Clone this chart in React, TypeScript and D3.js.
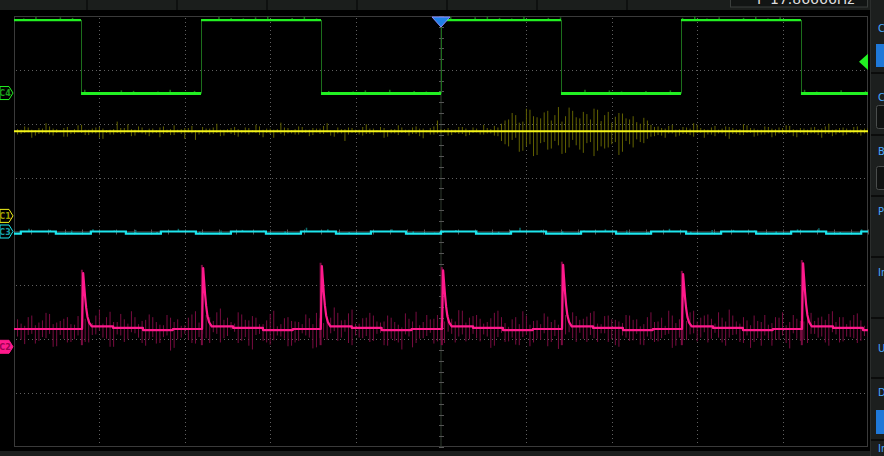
import React from 'react';
import * as d3 from 'd3';

// ---------- data (time in ms, 20 ms/div; amplitude in divisions) ----------
const timeGridMs = [-80, -60, -40, -20, 20, 40, 60, 80];
const ampGridDiv = [-3, -2, -1, 1, 2, 3];

const channelLabels = ['C4', 'C1', 'C3', 'C2'];
const channelMarkerDiv = [2.57, 0.29, 0, -2.14];

const freqLabel = 'F';
const freqValue = '17.86666Hz';
const panelLabels = ['Coupling', 'Coupling', 'BW Limit', 'Probe', 'Impedance', 'Unit', 'Deskew', 'Invert'];

// C4 (green) square wave
const greenEdgeMs = [-84.3, -56.2, -28.1, 0, 28.1, 56.2, 84.3];
const greenSegDiv = [3.925, 2.56, 3.925, 2.56, 3.925, 2.56, 3.925, 2.56];
const greenNoise = [3,6,2,5,4,7,2,3,6,5,2,4,7,3,5,2,6,4,3,5,7,2,4,6,3,5,2,4,6,3,7,2,5,4,3,6,2,5,7,4,3,6,2,4,5,3,7,2,6,4,3,5,2,6,4,7,3,5,2,4,6,3,5,2,7,4,3,6,2,5];

// C1 (yellow)
const yellowDiv = 1.86;
const yellowUp = [4,9,3,6,15,5,2,8,4,12,3,7,5,3,18,6,4,9,2,5,7,3,11,4,6,2,8,5,14,3,6,4,7,2,9,5,3,16,6,4,8,3,5,10,2,7,4,6,3,13,5,8,2,4,7,3,9,5,6,20,4,3,8,5,7,2,6,10,
  14,22,30,18,40,26,35,20,45,28,38,24,32,42,19,36,27,33,22,17,25,12,
  9,5,12,4,7,15,6,3,10,5,8,4,13,6,3,9,5,7,11,4,6,3,8,5,14,4,7,3,9,5];
const yellowDown = [6,3,12,5,4,8,2,10,5,3,7,4,14,6,3,5,9,2,6,4,11,3,7,5,2,16,4,6,3,8,5,10,4,2,7,3,12,5,4,6,3,9,2,5,8,4,18,3,6,5,7,2,10,4,3,8,5,13,6,4,2,7,5,9,3,6,4,8,
  18,28,12,36,24,44,20,32,26,40,16,34,22,46,28,30,20,38,24,15,22,10,
  7,12,4,8,5,10,3,6,9,4,14,5,7,3,8,6,11,4,5,9,3,7,4,12,5,6,8,3,5,4];
const yellowUpB = [3,7,2,5,9,4,6,2,11,3,5,8,2,4,6,13,3,7,5,2,9,4,3,6,10,2,5,7,3,4,8,2,6,12,3,5,4,7,2,9,3,6,5,15,2,4,7,3,8,5,2,6,4,11,3,7,5,2,9,4,6,3,8,2,5,12,4,7,
  20,34,16,42,28,24,38,30,18,44,26,36,22,40,30,16,34,24,28,14,20,8,
  6,10,3,8,5,12,4,7,3,9,6,4,11,5,3,8,4,6,10,3,5,7,4,9,3,6,5,8,4,6];
const yellowDownB = [5,2,8,4,6,3,10,5,2,7,4,12,3,6,5,2,8,4,9,3,5,7,2,14,4,6,3,5,9,2,7,4,6,3,11,5,2,8,4,6,3,7,5,2,10,4,6,3,8,5,2,12,4,7,3,5,9,2,6,4,8,3,5,7,2,6,4,9,
  24,16,38,28,46,22,34,18,42,30,26,40,20,36,32,24,44,18,30,20,14,9,
  8,4,10,5,7,3,12,6,4,9,5,7,3,10,6,4,8,5,3,11,6,4,7,5,9,3,6,4,8,5];

// C3 (cyan)
const cyanStepMs = [-100,-98.4,-90.2,-82.0,-73.8,-65.6,-57.4,-49.2,-41.0,-32.8,-24.6,-16.4,-8.2,0,8.2,16.4,24.6,32.8,41.0,49.2,57.4,65.6,73.8,82.0,90.2,98.4];
const cyanStepDiv = [-0.04,0,-0.04,0,-0.04,0,-0.04,0,-0.04,0,-0.04,0,-0.04,0,-0.04,0,-0.04,0,-0.04,0,-0.04,0,-0.04,0,-0.04,0];
const cyanNoise = [3,1,4,2,0,5,1,3,2,4,1,0,3,5,2,1,4,2,3,0,1,4,2,5,1,3,0,2,4,1,3,2,5,1,0,3,2,4,1,2];

// C2 (pink)
const pinkSpikeMs = [-83.8, -55.7, -27.9, 0.5, 28.6, 56.7, 84.8];
const pinkSpikePeakDiv = [-0.77, -0.68, -0.64, -0.72, -0.62, -0.79, -0.59];
const spikeOffsetMs = [-0.25, 0, 0.2, 0.45, 0.7, 1.0, 1.4, 2.0];
const spikeFrac = [0, 1, 0.8, 0.55, 0.35, 0.18, 0.07, 0];
const pinkBaseOffsetMs = [2.0, 7, 14, 21];
const pinkBaseDiv = [-1.76, -1.79, -1.83, -1.81];
const pinkUp = [18,6,25,12,30,9,15,22,8,35,14,20,5,27,11,16,31,7,19,24,10,28,13,6,21,33,9,17,26,12,8,29,15,22,7,18,36,11,24,14,9,20,30,6,16,25,12,34,8,19,23,10,27,15,5,21,32,13,18,26,9,14,30,7,22,17,11,28,20,6,24,35,10,16,29,13,8,21,26,12,18,31,7,23,15,9,27,20,11,33,14,6,25,18,10,29,16,22,8,19,34,12,24,9,17,28,13,21,7,26,15,30,10,18,23,11,20,14,27,8];
const pinkDown = [14,28,9,22,17,33,11,25,19,7,30,15,21,38,12,26,8,18,29,13,24,10,35,16,20,27,9,31,14,22,6,28,17,40,11,23,19,12,30,25,8,16,34,21,13,27,10,32,18,15,24,9,29,20,36,12,26,17,7,23,31,14,19,28,11,25,16,33,9,21,27,13,30,18,8,24,37,15,22,12,29,19,10,26,32,14,20,7,28,17,23,11,35,16,25,13,21,30,9,27,18,12,24,33,15,10,29,20,26,8,22,31,14,19,36,12,25,17,28,11];
const pinkUpB = [10,22,7,16,28,12,19,9,24,14,6,31,17,11,26,8,20,13,29,15,9,23,18,7,27,12,21,10,33,16,8,25,14,19,11,30,7,22,17,13,27,9,20,15,35,11,24,8,18,28,12,16,23,10,31,14,7,26,19,12,21,9,29,16,24,8,18,32,13,20,11,27,15,9,23,17,30,10,19,14,25,8,22,16,12,28,19,7,24,13,21,34,11,17,26,9,20,14,29,12,23,8,18,27,15,10,22,31,13,19,9,25,16,12,28,20,7,24,14,18];
const pinkDownB = [20,11,27,15,9,32,18,24,12,29,16,8,23,35,14,21,10,28,17,25,13,38,19,9,26,15,22,11,30,18,7,24,33,13,20,27,10,16,29,22,12,36,17,25,9,21,31,14,19,26,11,28,16,23,8,34,18,13,27,21,10,30,15,24,19,12,37,17,22,14,28,9,25,20,32,13,18,11,29,23,16,26,10,21,35,14,19,27,12,24,17,9,31,20,15,28,11,23,18,33,13,26,10,22,29,16,20,12,36,18,25,14,21,30,11,27,16,19,24,13];

// ---------- layout ----------
const W = 884, H = 456;
const PL = 14, PR = 868, PT = 16, PB = 447;
const x = d3.scaleLinear().domain([-100, 100]).range([PL, PR]);
const y = d3.scaleLinear().domain([-4, 4]).range([PB, PT]);

const C = {
  green: '#22f022', greenDim: '#1c6e1c', yellow: '#f4f41a', yellowDim: '#626200',
  cyan: '#1ee6ee', cyanDim: '#0c6a6a', pink: '#ff1a8c', pinkDim: '#780c40',
};

function pinkBaseAt(t: number) {
  let prev: number | null = null;
  for (const s of pinkSpikeMs) if (s <= t) prev = s;
  if (prev === null) return pinkBaseDiv[pinkBaseDiv.length - 1];
  const off = t - prev;
  let v = pinkBaseDiv[0];
  pinkBaseOffsetMs.forEach((o, j) => { if (off >= o) v = pinkBaseDiv[j]; });
  return v;
}
function greenAt(t: number) {
  let k = 0;
  greenEdgeMs.forEach((e) => { if (t >= e) k++; });
  return greenSegDiv[k];
}
function cyanAt(t: number) {
  let v = cyanStepDiv[0];
  cyanStepMs.forEach((s, j) => { if (t >= s) v = cyanStepDiv[j]; });
  return v;
}
const noiseT = (i: number, n: number, shift = 0) => -100 + ((i + 0.5 + shift) * 200) / n;

const line = d3.line<[number, number]>().x((d) => x(d[0])).y((d) => y(d[1]));
const stepLine = d3.line<[number, number]>().x((d) => x(d[0])).y((d) => y(d[1])).curve(d3.curveStepAfter);

function pinkPoints(): [number, number][] {
  const pts: [number, number][] = [[-100, pinkBaseAt(-100)]];
  pinkSpikeMs.forEach((s, k) => {
    const pre = pinkBaseAt(s - 0.5);
    const post = pinkBaseDiv[0];
    spikeOffsetMs.forEach((o, j) => {
      const base = j < 2 ? pre : post;
      pts.push([s + o, base + spikeFrac[j] * (pinkSpikePeakDiv[k] - base)]);
    });
    const next = k + 1 < pinkSpikeMs.length ? pinkSpikeMs[k + 1] : 100;
    pinkBaseOffsetMs.forEach((o, j) => {
      if (j === 0) return;
      if (s + o < next - 0.3) {
        pts.push([s + o, pinkBaseDiv[j - 1]]);
        pts.push([s + o, pinkBaseDiv[j]]);
      }
    });
  });
  pts.push([100, pinkBaseAt(100)]);
  return pts;
}

function NoiseBand({ up, down, shift, baseAt, color, width, prefix }: any) {
  return (
    <g>
      {up.map((u: number, i: number) => {
        const t = noiseT(i, up.length, shift);
        const b = baseAt(t);
        return <line key={prefix + i} x1={x(t)} x2={x(t)} y1={y(b - down[i] / 100)} y2={y(b + u / 100)} stroke={color} strokeWidth={width} />;
      })}
    </g>
  );
}

function Marker({ label, level, stroke, fill, text }: any) {
  const cy = y(level);
  const pts = [[0, cy - 6.5], [9, cy - 6.5], [13, cy], [9, cy + 6.5], [0, cy + 6.5]].map((p) => p.join(',')).join(' ');
  return (
    <g>
      <polygon points={pts} fill={fill} stroke={stroke} strokeWidth={1} />
      <text x={5} y={cy + 3} fontSize={8} fontFamily="DejaVu Sans" fontWeight="bold" fill={text} textAnchor="middle">{label}</text>
    </g>
  );
}

export default function App() {
  const gSegBounds = [-100, ...greenEdgeMs, 100];
  const markerStyles = [
    { stroke: C.green, fill: '#000', text: '#1aa01a' },
    { stroke: C.yellow, fill: '#000', text: '#a0a000' },
    { stroke: C.cyan, fill: '#000', text: '#14a0a8' },
    { stroke: C.pink, fill: C.pink, text: '#9a0050' },
  ];
  const vTicks = d3.range(-20, 21).map((k) => k * 0.2);
  const hTicks = d3.range(-25, 26).map((k) => k * 4);
  const panelSeps = [73, 135, 196, 257, 318, 378, 440];
  const panelTextY = [32, 101, 155, 215, 276, 352, 396, 452];
  const topSeps = [87, 177, 267, 357, 447, 537, 627];
  const yellowBase = () => yellowDiv;

  return (
    <svg width={W} height={H} style={{ position: 'fixed', left: 0, top: 0, background: '#000' }}>
      <defs>
        <clipPath id="plot"><rect x={PL} y={PT} width={PR - PL} height={PB - PT} /></clipPath>
        <clipPath id="fbox"><rect x={730} y={0} width={138} height={7} /></clipPath>
        <clipPath id="panel"><rect x={871} y={0} width={13} height={H} /></clipPath>
      </defs>
      <rect x={0} y={0} width={W} height={H} fill="#000" />
      {/* top bar */}
      <rect x={0} y={0} width={W} height={10} fill="#1b1e1c" />
      {topSeps.map((sx) => <line key={sx} x1={sx} x2={sx} y1={0} y2={10} stroke="#0b0c0b" strokeWidth={1.5} />)}
      <rect x={730.5} y={-2} width={137} height={9} fill="#121514" stroke="#3a3e3c" />
      <g clipPath="url(#fbox)">
        <text x={757} y={3.5} fontSize={14} fontFamily="DejaVu Sans" fill="#dcdcdc">{freqLabel}</text>
        <text x={770} y={3.5} fontSize={14} fontFamily="DejaVu Sans" fill="#dcdcdc">{freqValue}</text>
      </g>
      {/* bottom band */}
      <rect x={0} y={451} width={W} height={5} fill="#1c1e1d" />
      {/* right panel */}
      <rect x={870} y={0} width={14} height={H} fill="#1c1f1e" />
      <line x1={870.5} x2={870.5} y1={0} y2={H} stroke="#2a2d2c" />
      {panelSeps.map((py) => <line key={py} x1={871} x2={884} y1={py} y2={py} stroke="#0b0c0b" strokeWidth={2} />)}
      <g clipPath="url(#panel)">
        <rect x={876} y={44} width={10} height={23} fill="#1f78d8" />
        <rect x={876.5} y={105.5} width={10} height={23} rx={2} fill="#101211" stroke="#4a4d4c" />
        <rect x={876.5} y={166.5} width={10} height={23} rx={2} fill="#101211" stroke="#4a4d4c" />
        <rect x={876} y={410} width={10} height={24} fill="#1f78d8" />
        {panelLabels.map((t, i) => (
          <text key={i} x={878} y={panelTextY[i]} fontSize={10} fontFamily="DejaVu Sans" fill="#4aa6ff">{t}</text>
        ))}
      </g>
      {/* plot frame & grid */}
      <rect x={PL + 0.5} y={PT + 0.5} width={PR - PL - 1} height={PB - PT - 1} fill="none" stroke="#3a3a3a" />
      {timeGridMs.map((t) => (
        <line key={'v' + t} x1={Math.round(x(t)) + 0.5} x2={Math.round(x(t)) + 0.5} y1={PT + 2} y2={PB - 2} stroke="#606060" strokeDasharray="1 3" />
      ))}
      {ampGridDiv.map((a) => (
        <line key={'h' + a} x1={PL + 2} x2={PR - 2} y1={Math.round(y(a)) + 0.5} y2={Math.round(y(a)) + 0.5} stroke="#606060" strokeDasharray="1 3" />
      ))}
      <line x1={x(0)} x2={x(0)} y1={PT} y2={PB} stroke="#2e3a2e" />
      <line x1={PL} x2={PR} y1={y(0)} y2={y(0)} stroke="#2e2e2e" />
      {vTicks.map((v) => <line key={'vt' + v} x1={x(0) - 2} x2={x(0) + 3} y1={Math.round(y(v)) + 0.5} y2={Math.round(y(v)) + 0.5} stroke="#555" />)}
      {hTicks.map((t) => <line key={'ht' + t} x1={Math.round(x(t)) + 0.5} x2={Math.round(x(t)) + 0.5} y1={y(0) - 2} y2={y(0) + 3} stroke="#555" />)}

      <g clipPath="url(#plot)">
        {/* yellow */}
        <NoiseBand up={yellowUp} down={yellowDown} shift={0} baseAt={yellowBase} color={C.yellowDim} width={1} prefix="ya" />
        <NoiseBand up={yellowUpB} down={yellowDownB} shift={0.5} baseAt={yellowBase} color={C.yellowDim} width={1} prefix="yb" />
        <path d={line([[-100, yellowDiv], [100, yellowDiv]]) || ''} stroke={C.yellow} strokeWidth={2} fill="none" />

        {/* green */}
        {greenNoise.map((v, i) => {
          const t = noiseT(i, greenNoise.length, 0.3);
          const g = greenAt(t);
          return <line key={'gn' + i} x1={x(t)} x2={x(t)} y1={y(g)} y2={y(g + v / 100)} stroke={C.greenDim} strokeWidth={1.5} />;
        })}
        {greenEdgeMs.map((e, i) => (
          <line key={'ge' + i} x1={Math.round(x(e)) + 0.5} x2={Math.round(x(e)) + 0.5} y1={y(greenSegDiv[i])} y2={y(greenSegDiv[i + 1])} stroke={C.greenDim} />
        ))}
        {greenSegDiv.map((lv, i) => (
          <path key={'gs' + i} d={line([[gSegBounds[i], lv], [gSegBounds[i + 1], lv]]) || ''} stroke={C.green} strokeWidth={lv > 3 ? 2.2 : 3} fill="none" />
        ))}

        {/* cyan */}
        {cyanNoise.map((v, i) => {
          const t = noiseT(i, cyanNoise.length, 0.2);
          const c = cyanAt(t);
          return <line key={'cn' + i} x1={x(t)} x2={x(t)} y1={y(c)} y2={y(c + (v + 2) / 100)} stroke={C.cyanDim} strokeWidth={1.5} />;
        })}
        <path d={stepLine(cyanStepMs.map((t, i) => [t, cyanStepDiv[i]] as [number, number]).concat([[100, cyanStepDiv[cyanStepDiv.length - 1]]])) || ''} stroke={C.cyan} strokeWidth={2.2} fill="none" />

        {/* pink */}
        <NoiseBand up={pinkUp} down={pinkDown} shift={0} baseAt={pinkBaseAt} color={C.pinkDim} width={1} prefix="pa" />
        <NoiseBand up={pinkUpB} down={pinkDownB} shift={0.5} baseAt={pinkBaseAt} color={C.pinkDim} width={1} prefix="pb" />
        {pinkSpikeMs.map((s, k) => (
          <line key={'pg' + k} x1={x(s - 0.3)} x2={x(s - 0.3)} y1={y(pinkBaseAt(s - 0.5) - 0.3)} y2={y(pinkSpikePeakDiv[k] + 0.06)} stroke={C.pinkDim} strokeWidth={2} />
        ))}
        <path d={line(pinkPoints()) || ''} stroke={C.pink} strokeWidth={2.2} fill="none" strokeLinejoin="round" />
      </g>

      {/* trigger markers */}
      <polygon points={`${x(0) - 9},${PT + 1} ${x(0) + 9},${PT + 1} ${x(0)},${PT + 11}`} fill="#1f80e6" stroke="#8a8cff" strokeWidth={1} />
      <polygon points={`${PR},${y(3.3)} ${PR},${y(3.0)} ${PR - 9},${y(3.15)}`} fill={C.green} />

      {/* channel markers */}
      {channelLabels.map((l, i) => (
        <Marker key={l} label={l} level={channelMarkerDiv[i]} {...markerStyles[i]} />
      ))}
    </svg>
  );
}
